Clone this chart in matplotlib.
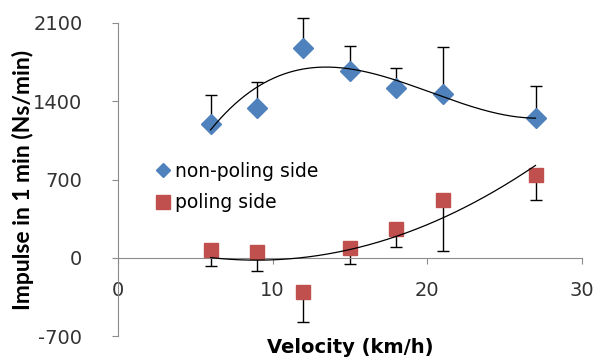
import numpy as np
import matplotlib as mpl
mpl.use('Agg')
import matplotlib.pyplot as plt

plt.rcParams['font.family'] = ['DejaVu Sans']
plt.rcParams['axes.unicode_minus'] = False

# data
velocity = [6, 9, 12, 15, 18, 21, 27]
non_poling = [1200, 1340, 1880, 1670, 1520, 1465, 1250]
non_poling_err = [257, 232, 268, 223, 180, 420, 287]
poling = [72, 54, -304, 89, 259, 518, 742]
poling_err = [144, 170, 268, 143, 161, 455, 224]

blue = '#4F81BD'
red = '#C0504D'

fig = plt.figure(figsize=(5.95, 3.59), dpi=100)
ax = fig.add_axes([0.198, 0.064, 0.780, 0.872])

x = np.array(velocity)
z = np.zeros(len(x))

# error bars (one sided, as in the original)
for vals, err in [(non_poling, [z, non_poling_err]), (poling, [poling_err, z])]:
    eb = ax.errorbar(x, vals, yerr=err, fmt='none', ecolor='black',
                     elinewidth=1, capsize=4.5, capthick=1, zorder=2)
    for art in eb.lines[1] + eb.lines[2]:
        art.set_clip_on(False)

# polynomial trend lines
xs = np.linspace(x.min(), x.max(), 200)
p1 = np.polyfit(x, non_poling, 3)
p2 = np.polyfit(x, poling, 2)
ax.plot(xs, np.polyval(p1, xs), color='black', lw=0.9, zorder=4)
ax.plot(xs, np.polyval(p2, xs), color='black', lw=0.9, zorder=4)

ax.plot(x, non_poling, 'D', color=blue, ms=10, mec=blue,
        label='non-poling side', zorder=3)
ax.plot(x, poling, 's', color=red, ms=10.5, mec=red,
        label='poling side', zorder=3)

ax.set_xlim(0, 30)
ax.set_ylim(-700, 2100)
ax.set_xticks([0, 10, 20, 30])
ax.set_yticks([-700, 0, 700, 1400, 2100])

for s in ['top', 'right']:
    ax.spines[s].set_visible(False)
ax.spines['bottom'].set_position(('data', 0))
ax.spines['left'].set_color('#8c8c8c')
ax.spines['bottom'].set_color('#8c8c8c')
ax.tick_params(axis='both', colors='#8c8c8c', labelcolor='#333333',
               labelsize=14, length=4.5, direction='out')
ax.tick_params(axis='x', pad=12)
ax.tick_params(axis='y', pad=21)

ax.set_ylabel('Impulse in 1 min (Ns/min)', fontsize=16.5,
              fontweight='bold', family='Lato')
ax.yaxis.set_label_coords(-0.205, 0.5, transform=ax.transAxes)
ax.yaxis.label.set_va('center')
ax.set_xlabel('Velocity (km/h)', fontsize=14, fontweight='bold')
ax.xaxis.set_label_coords(0.5, -0.005, transform=ax.transAxes)
ax.xaxis.label.set_va('top')

leg = ax.legend(loc='upper left', bbox_to_anchor=(0.04, 0.61), frameon=False,
                fontsize=13.5, handletextpad=0.15, handlelength=1.0,
                labelspacing=0.65)
leg.legend_handles[0].set_markersize(7)
leg.legend_handles[1].set_markersize(10)

fig.savefig('out.png', dpi=100)
